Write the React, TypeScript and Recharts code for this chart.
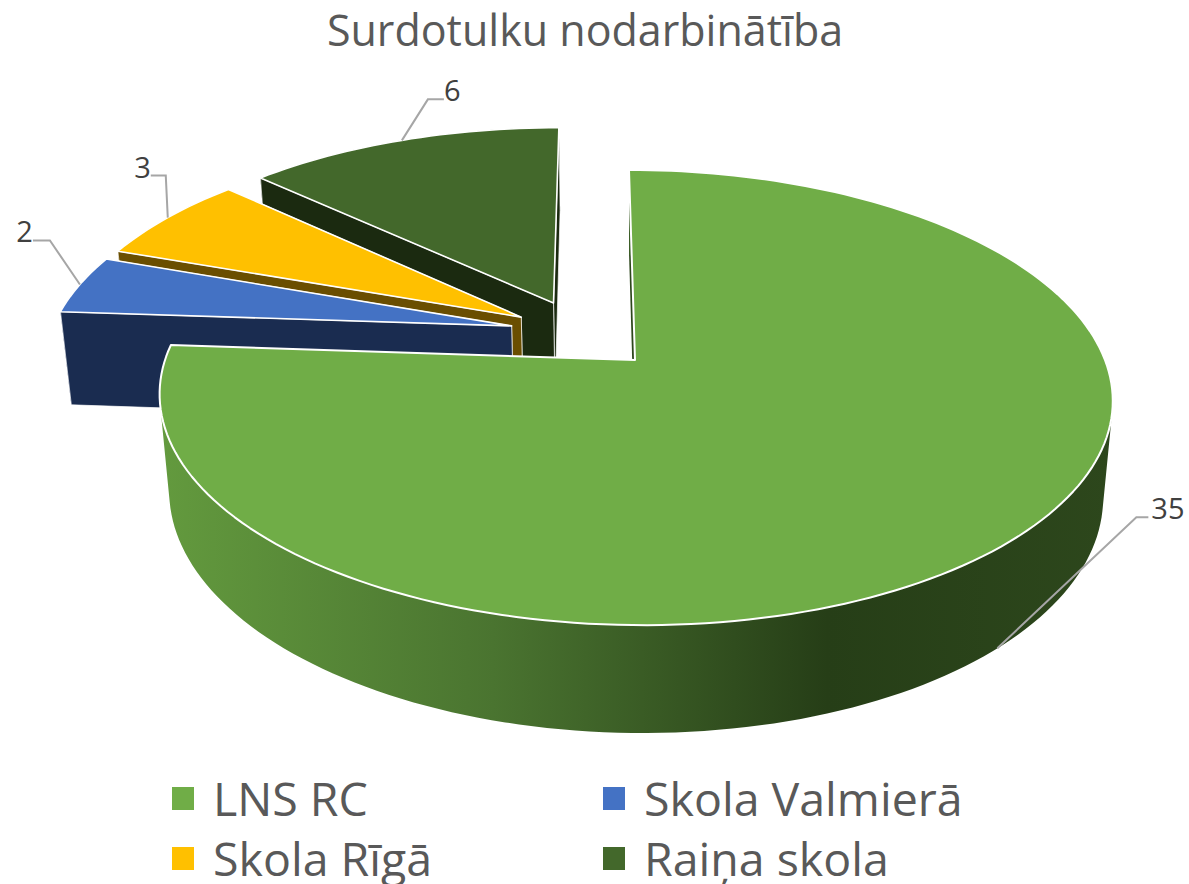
import React from 'react';
import { PieChart, Pie, Legend } from 'recharts';

const categories = ['LNS RC', 'Skola Valmierā', 'Skola Rīgā', 'Raiņa skola'];
const values = [35, 2, 3, 6];
const topColors = ['#70AD47', '#4472C4', '#FFC000', '#43682B'];
const wallColors = ['url(#mainWall)', '#1A2C50', '#6A4E00', '#1B2A10'];
const title = 'Surdotulku nodarbinātība';

// Explosion of each slice on the pie plane (unit: pie radius)
const explode: Record<string, [number, number]> = {
  'LNS RC': [0, 0],
  'Skola Valmierā': [-0.267, 0.158],
  'Skola Rīgā': [-0.247, 0.2],
  'Raiņa skola': [-0.177, 0.269],
};
// Leader line: anchor depth (0 top rim, 1 bottom rim), elbow and end offsets
const leaders: Record<string, { z: number; elbow: [number, number]; end: [number, number]; gap: number }> = {
  'LNS RC': { z: 1, elbow: [139, -131], end: [151, -131], gap: 3 },
  'Skola Valmierā': { z: 0, elbow: [-30, -44], end: [-47, -44], gap: 0 },
  'Skola Rīgā': { z: 0, elbow: [-2, -42], end: [-17, -42], gap: 0 },
  'Raiņa skola': { z: 0, elbow: [26, -41], end: [42, -41], gap: 0 },
};

// Painter's order: back slices first, so the table runs the opposite way round the pie
const table = categories
  .map((name, i) => ({ name, value: values[i], fill: topColors[i], wall: wallColors[i] }))
  .reverse();

const W = 1189;
const H = 884;

// Perspective projection of a point on the pie plane
const project = (X: number, Y: number, z: number): [number, number] => {
  const d = 1 + 0.165 * Y + 0.02 * z;
  return [635 + (470 * X - 7 * Y) / d, (360 - 162 * Y + 104.7 * z) / d];
};

const rim = (name: string, theta: number, z: number): [number, number] => {
  const [ex, ey] = explode[name];
  const r = (theta * Math.PI) / 180;
  return project(ex + Math.sin(r), ey + Math.cos(r), z);
};

const toPath = (pts: [number, number][]) =>
  'M' + pts.map((p) => `${p[0].toFixed(2)},${p[1].toFixed(2)}`).join('L') + 'Z';

// All quads wound the same way, so that one path fills their union without seams
const unionOfQuads = (top: [number, number][], bottom: [number, number][]) => {
  let d = '';
  for (let i = 0; i + 1 < top.length; i++) {
    const q: [number, number][] = [top[i], top[i + 1], bottom[i + 1], bottom[i]];
    let area = 0;
    q.forEach((p, k) => {
      const o = q[(k + 1) % 4];
      area += p[0] * o[1] - o[0] * p[1];
    });
    d += toPath(area < 0 ? [...q].reverse() : q);
  }
  return d;
};

const Slice3D = (props: any) => {
  const { startAngle, endAngle, fill, name, wall, payload } = props;
  const label = name ?? payload?.name;
  const wallFill = wall ?? payload?.wall;
  const a = 90 - Math.max(startAngle, endAngle);
  const b = 90 - Math.min(startAngle, endAngle);
  const [ex, ey] = explode[label];
  const n = Math.max(2, Math.ceil((b - a) / 1.5));
  const top: [number, number][] = [];
  const bottom: [number, number][] = [];
  for (let i = 0; i <= n; i++) {
    const t = a + ((b - a) * i) / n;
    top.push(rim(label, t, 0));
    bottom.push(rim(label, t, 1));
  }
  const apexTop = project(ex, ey, 0);
  const apexBottom = project(ex, ey, 1);
  const isMain = wallFill === 'url(#mainWall)';
  const solid = isMain ? '#2D471C' : wallFill;
  const edge = isMain ? { stroke: 'none' } : { stroke: '#FFFFFF', strokeOpacity: 0.7, strokeWidth: 1 };
  const strip = <path d={unionOfQuads(top, bottom)} fill={wallFill} fillRule="nonzero" />;
  const walls = (
    <g>
      <path d={toPath([apexTop, top[n], bottom[n], apexBottom])} fill={solid} {...edge} />
      <path d={toPath([apexTop, top[0], bottom[0], apexBottom])} fill={solid} {...edge} />
    </g>
  );
  return (
    <g>
      <defs>
        <linearGradient id="mainWall" gradientUnits="userSpaceOnUse" x1="160" y1="0" x2="1113" y2="0">
          <stop offset="0" stopColor="#639A3E" />
          <stop offset="0.35" stopColor="#4A7430" />
          <stop offset="0.7" stopColor="#263E17" />
          <stop offset="1" stopColor="#2D471C" />
        </linearGradient>
      </defs>
      {isMain ? walls : strip}
      {isMain ? strip : walls}
      <path
        d={toPath([apexTop, ...top])}
        fill={fill}
        stroke="#FFFFFF"
        strokeWidth={isMain ? 2 : 1.6}
        strokeLinejoin="round"
      />
    </g>
  );
};

const LeaderLabel = (props: any) => {
  const { midAngle, value, name, payload } = props;
  const label = name ?? payload?.name;
  const cfg = leaders[label];
  const [x, y] = rim(label, 90 - midAngle, cfg.z);
  const right = cfg.end[0] > cfg.elbow[0];
  const ex = x + cfg.end[0];
  const ey = y + cfg.end[1];
  return (
    <g>
      <polyline
        points={`${x},${y} ${x + cfg.elbow[0]},${y + cfg.elbow[1]} ${ex},${ey}`}
        fill="none"
        stroke="#A6A6A6"
        strokeWidth={2}
      />
      <text
        x={ex + (right ? cfg.gap : -cfg.gap)}
        y={ey + 2}
        textAnchor={right ? 'start' : 'end'}
        fontFamily="'Open Sans', sans-serif"
        fontSize={29}
        fill="#404040"
      >
        {value}
      </text>
    </g>
  );
};

const LegendBlock = (props: any) => {
  const payload = props.payload ?? [];
  const items = categories.map((c) => payload.find((p: any) => p.value === c)).filter(Boolean);
  return (
    <div
      style={{
        display: 'grid',
        gridTemplateColumns: '431px 400px',
        gridAutoRows: '60px',
        fontFamily: "'Open Sans', sans-serif",
        fontSize: 46.5,
        color: '#595959',
      }}
    >
      {items.map((it: any) => (
        <div key={it.value} style={{ display: 'flex', alignItems: 'center', height: 60, whiteSpace: 'nowrap' }}>
          <span style={{ width: 22, height: 23, background: it.color, marginRight: 19, flex: 'none' }} />
          <span>{it.value}</span>
        </div>
      ))}
    </div>
  );
};

export default function App() {
  return (
    <div style={{ position: 'absolute', left: 0, top: 0, width: W, height: H, overflow: 'hidden', background: '#fff' }}>
      <PieChart width={W} height={H} margin={{ top: 0, right: 0, bottom: 0, left: 0 }}>
        <text x={585} y={46} textAnchor="middle" fontFamily="'Open Sans', sans-serif" fontSize={43} fill="#595959">
          {title}
        </text>
        <Pie
          data={table}
          dataKey="value"
          nameKey="name"
          cx={635}
          cy={360}
          outerRadius={300}
          startAngle={-270}
          endAngle={90}
          stroke="none"
          isAnimationActive={false}
          shape={Slice3D}
          label={LeaderLabel}
          labelLine={false}
        />
        <Legend
          content={<LegendBlock />}
          wrapperStyle={{ position: 'absolute', left: 172, top: 768, width: 831, height: 116 }}
        />
      </PieChart>
    </div>
  );
}
